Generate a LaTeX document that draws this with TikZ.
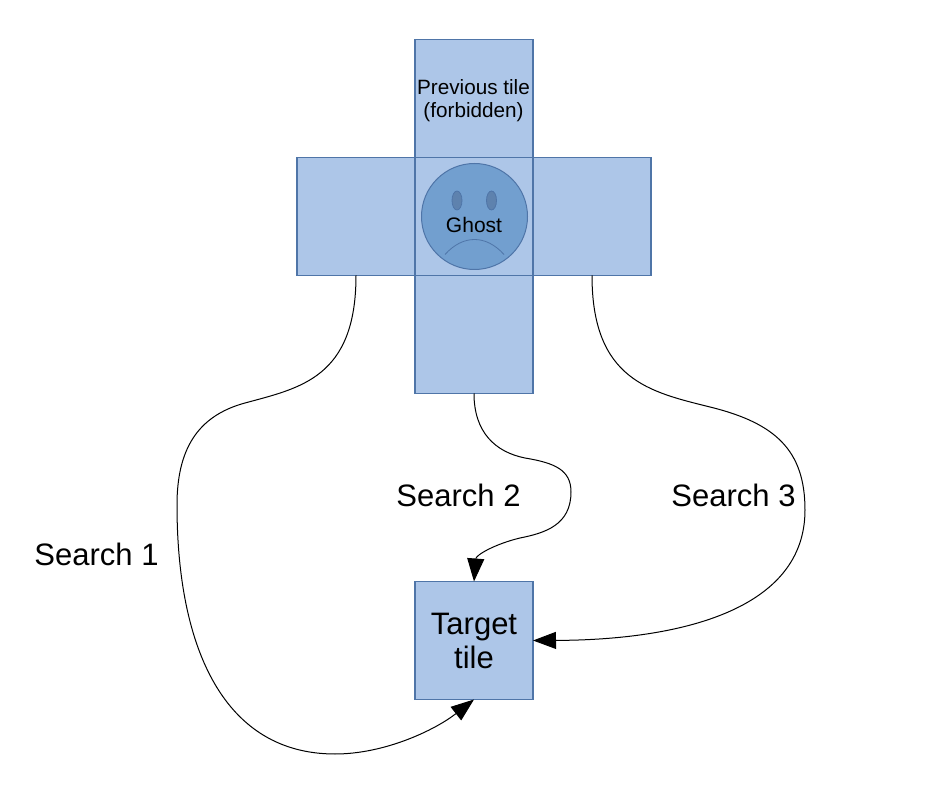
\documentclass[tikz,border=0pt]{standalone}
\usepackage{fontspec}
\setmainfont{Liberation Sans}
\usetikzlibrary{arrows.meta,shapes.geometric}
\definecolor{tilefill}{HTML}{ADC6E8}
\definecolor{tileline}{HTML}{4F75A8}
\definecolor{facefill}{HTML}{729FCF}
\definecolor{eyefill}{HTML}{5E82AE}
\tikzset{
 x=1pt,y=-1pt,
 tile/.style={draw=tileline,fill=tilefill,line width=1.1pt,minimum size=118pt,inner sep=0pt,outer sep=0pt,align=center},
 conn/.style={draw=black,line width=1pt,-{Triangle[length=23pt,width=17pt]}},
 big/.style={font=\fontsize{31}{36}\selectfont,inner sep=0pt},
 eye/.style={ellipse,draw=tileline,fill=eyefill,line width=.8pt,minimum width=10pt,minimum height=19pt,inner sep=0pt},
}
\begin{document}
\begin{tikzpicture}
\useasboundingbox (0,0) rectangle (938,791);
\node[tile] (top) at (474,98.5) {};
\node[tile] (left) at (356,216.5) {};
\node[tile] (right) at (592,216.5) {};
\node[tile] (bottom) at (474,334.5) {};
\node[tile] (center) at (474,216.5) {};
\node[tile,font=\fontsize{31}{34}\selectfont] (target) at (474,640.5) {Target\\tile};
\node[font=\fontsize{20.7}{23}\selectfont,align=center,inner sep=0pt] (prev) at (473.5,100.7) {Previous tile\\(forbidden)\hspace{4pt}};
\node[circle,draw=tileline,fill=facefill,line width=1pt,minimum size=106pt,inner sep=0pt] (face) at (474.5,216.5) {};
\node[eye] (eyeL) at (457,200.5) {};
\node[eye] (eyeR) at (491.5,200.5) {};
\coordinate (mouthL) at (445,254.5);
\coordinate (mouthR) at (504,254.5);
\draw[tileline,line width=.8pt] (mouthL) .. controls (463,234.5) and (486,234.5) .. (mouthR);
\node[font=\fontsize{21}{24}\selectfont,inner sep=0pt] (ghost) at (474,225) {Ghost};
\draw[conn] (left.south) .. controls (356,378) and (300,388) .. (245,403)
  .. controls (197,416) and (177,450) .. (177,505)
  .. controls (177,650) and (225,754) .. (335,754)
  .. controls (385,754) and (435,730) .. (target.south);
\draw[conn] (bottom.south) .. controls (474,432) and (495,452) .. (525,458)
  .. controls (555,463) and (571,470) .. (571,492)
  .. controls (571,525) and (545,533) .. (520,538)
  .. controls (495,544) and (476,555) .. (target.north);
\draw[conn] (right.south) .. controls (592,380) and (650,392) .. (710,407)
  .. controls (775,423) and (805,450) .. (805,510)
  .. controls (805,610) and (680,640) .. (target.east);
\node[big] (s1) at (96.5,554) {Search 1};
\node[big] (s2) at (458.5,495) {Search 2};
\node[big] (s3) at (733.5,495) {Search 3};
\end{tikzpicture}
\end{document}
